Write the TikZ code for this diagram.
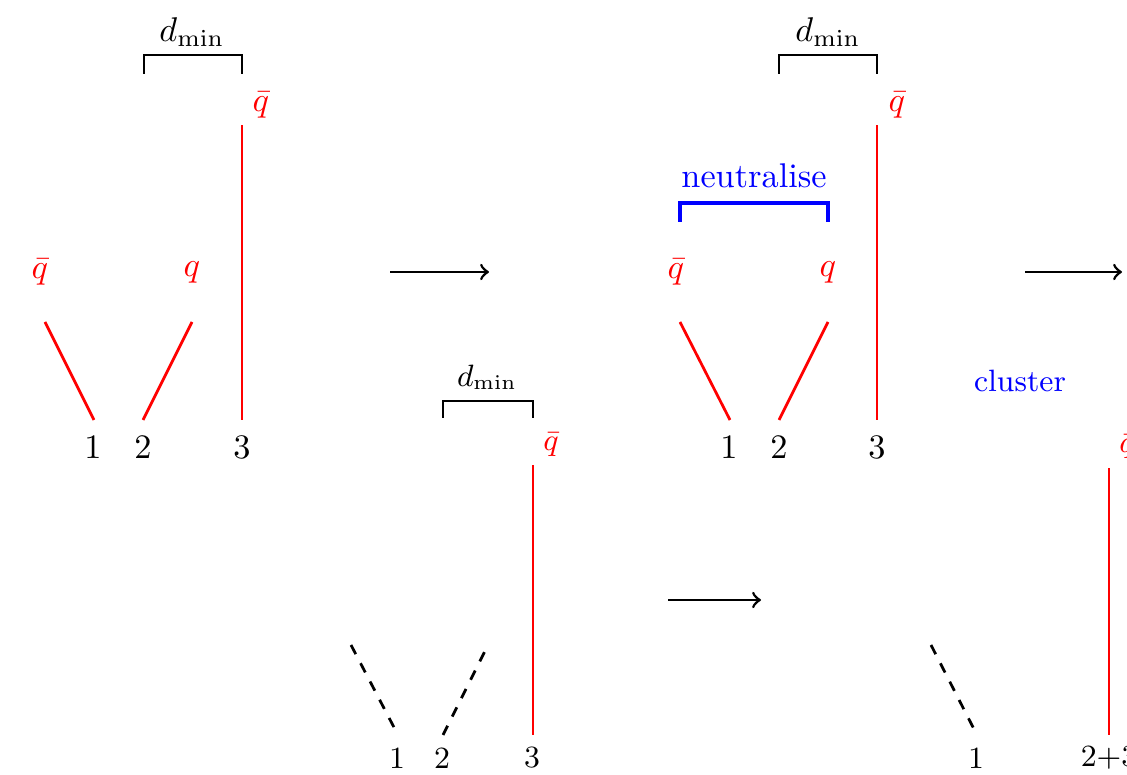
\documentclass[tikz,border=0pt]{standalone}
\usetikzlibrary{arrows}
\begin{document}
\begin{tikzpicture}[x=0.2915pt,y=-0.2915pt,
  quark/.style={red,thick},
  gone/.style={black,thick,dashed},
  dbrack/.style={black,thin},
  nbrack/.style={blue,line width=1.1pt},
  step arrow/.style={black,thick,->},
  qlab/.style={red,inner sep=0pt},
  lab/.style={inner sep=0pt},
  sm/.style={font=\fontsize{9}{10.8}\selectfont}]
\useasboundingbox (0,0) rectangle (1127,775);
\clip (0,0) rectangle (1127,775);

% ---------- top-left panel ----------
\coordinate (a1t) at (45,322); \coordinate (a1b) at (94,420);
\coordinate (a2b) at (143,420); \coordinate (a2t) at (192,322);
\coordinate (a3b) at (242,420); \coordinate (a3t) at (242,125);
\draw[quark] (a1t) -- (a1b);
\draw[quark] (a2b) -- (a2t);
\draw[quark] (a3b) -- (a3t);
\node[qlab] (aq1) at (40,272) {$\bar q$};
\node[qlab] (aq2) at (192,272) {$q$};
\node[qlab] (aq3) at (261,105) {$\bar q$};
\node[lab] (an1) at (93,447) {1};
\node[lab] (an2) at (143,447) {2};
\node[lab] (an3) at (242,447) {3};
\coordinate (adl) at (144,74); \coordinate (adr) at (242,74);
\draw[dbrack] (adl) -- ++(0,-19) -| (adr);
\node[lab] (adm) at (192,32) {$d_{\min}$};

\coordinate (ar1s) at (390,272); \coordinate (ar1e) at (489,272);
\draw[step arrow] (ar1s) -- (ar1e);

% ---------- top-right panel ----------
\coordinate (b1t) at (680,322); \coordinate (b1b) at (730,420);
\coordinate (b2b) at (779,420); \coordinate (b2t) at (828,322);
\coordinate (b3b) at (877,420); \coordinate (b3t) at (877,125);
\draw[quark] (b1t) -- (b1b);
\draw[quark] (b2b) -- (b2t);
\draw[quark] (b3b) -- (b3t);
\node[qlab] (bq1) at (676,272) {$\bar q$};
\node[qlab] (bq2) at (828,272) {$q$};
\node[qlab] (bq3) at (897,105) {$\bar q$};
\node[lab] (bn1) at (729,447) {1};
\node[lab] (bn2) at (779,447) {2};
\node[lab] (bn3) at (877,447) {3};
\coordinate (bdl) at (779,74); \coordinate (bdr) at (877,74);
\draw[dbrack] (bdl) -- ++(0,-19) -| (bdr);
\node[lab] (bdm) at (828,32) {$d_{\min}$};
\coordinate (bnl) at (680,222); \coordinate (bnr) at (828,222);
\draw[nbrack] (bnl) -- ++(0,-19) -| (bnr);
\node[lab,blue] (bneu) at (754,176) {neutralise};

\coordinate (ar2s) at (1025,272); \coordinate (ar2e) at (1122,272);
\draw[step arrow] (ar2s) -- (ar2e);

% ---------- bottom-left panel ----------
\begin{scope}[sm]
\coordinate (c1t) at (351,645); \coordinate (c1b) at (398,735);
\coordinate (c2b) at (443,735); \coordinate (c2t) at (488,645);
\coordinate (c3b) at (533,735); \coordinate (c3t) at (533,465);
\draw[gone] (c1t) -- (c1b);
\draw[gone] (c2b) -- (c2t);
\draw[quark] (c3b) -- (c3t);
\node[qlab] (cq3) at (551,445) {$\bar q$};
\node[lab] (cn1) at (397,758) {1};
\node[lab] (cn2) at (442,758) {2};
\node[lab] (cn3) at (532,758) {3};
\coordinate (cdl) at (443,418); \coordinate (cdr) at (533,418);
\draw[dbrack] (cdl) -- ++(0,-17) -| (cdr);
\node[lab] (cdm) at (487,377) {$d_{\min}$};

\coordinate (ar3s) at (668,600); \coordinate (ar3e) at (761,600);
\draw[step arrow] (ar3s) -- (ar3e);

% ---------- bottom-right panel ----------
\node[lab,blue] (dclu) at (1020,381) {cluster};
\coordinate (d1t) at (931,645); \coordinate (d1b) at (977,735);
\coordinate (d3b) at (1109,735); \coordinate (d3t) at (1109,468);
\draw[gone] (d1t) -- (d1b);
\draw[quark] (d3b) -- (d3t);
\node[qlab] (dq3) at (1127,447) {$\bar q$};
\node[lab] (dn1) at (976,758) {1};
\node[lab] (dn23) at (1109,758) {2+3};
\end{scope}
\end{tikzpicture}
\end{document}
